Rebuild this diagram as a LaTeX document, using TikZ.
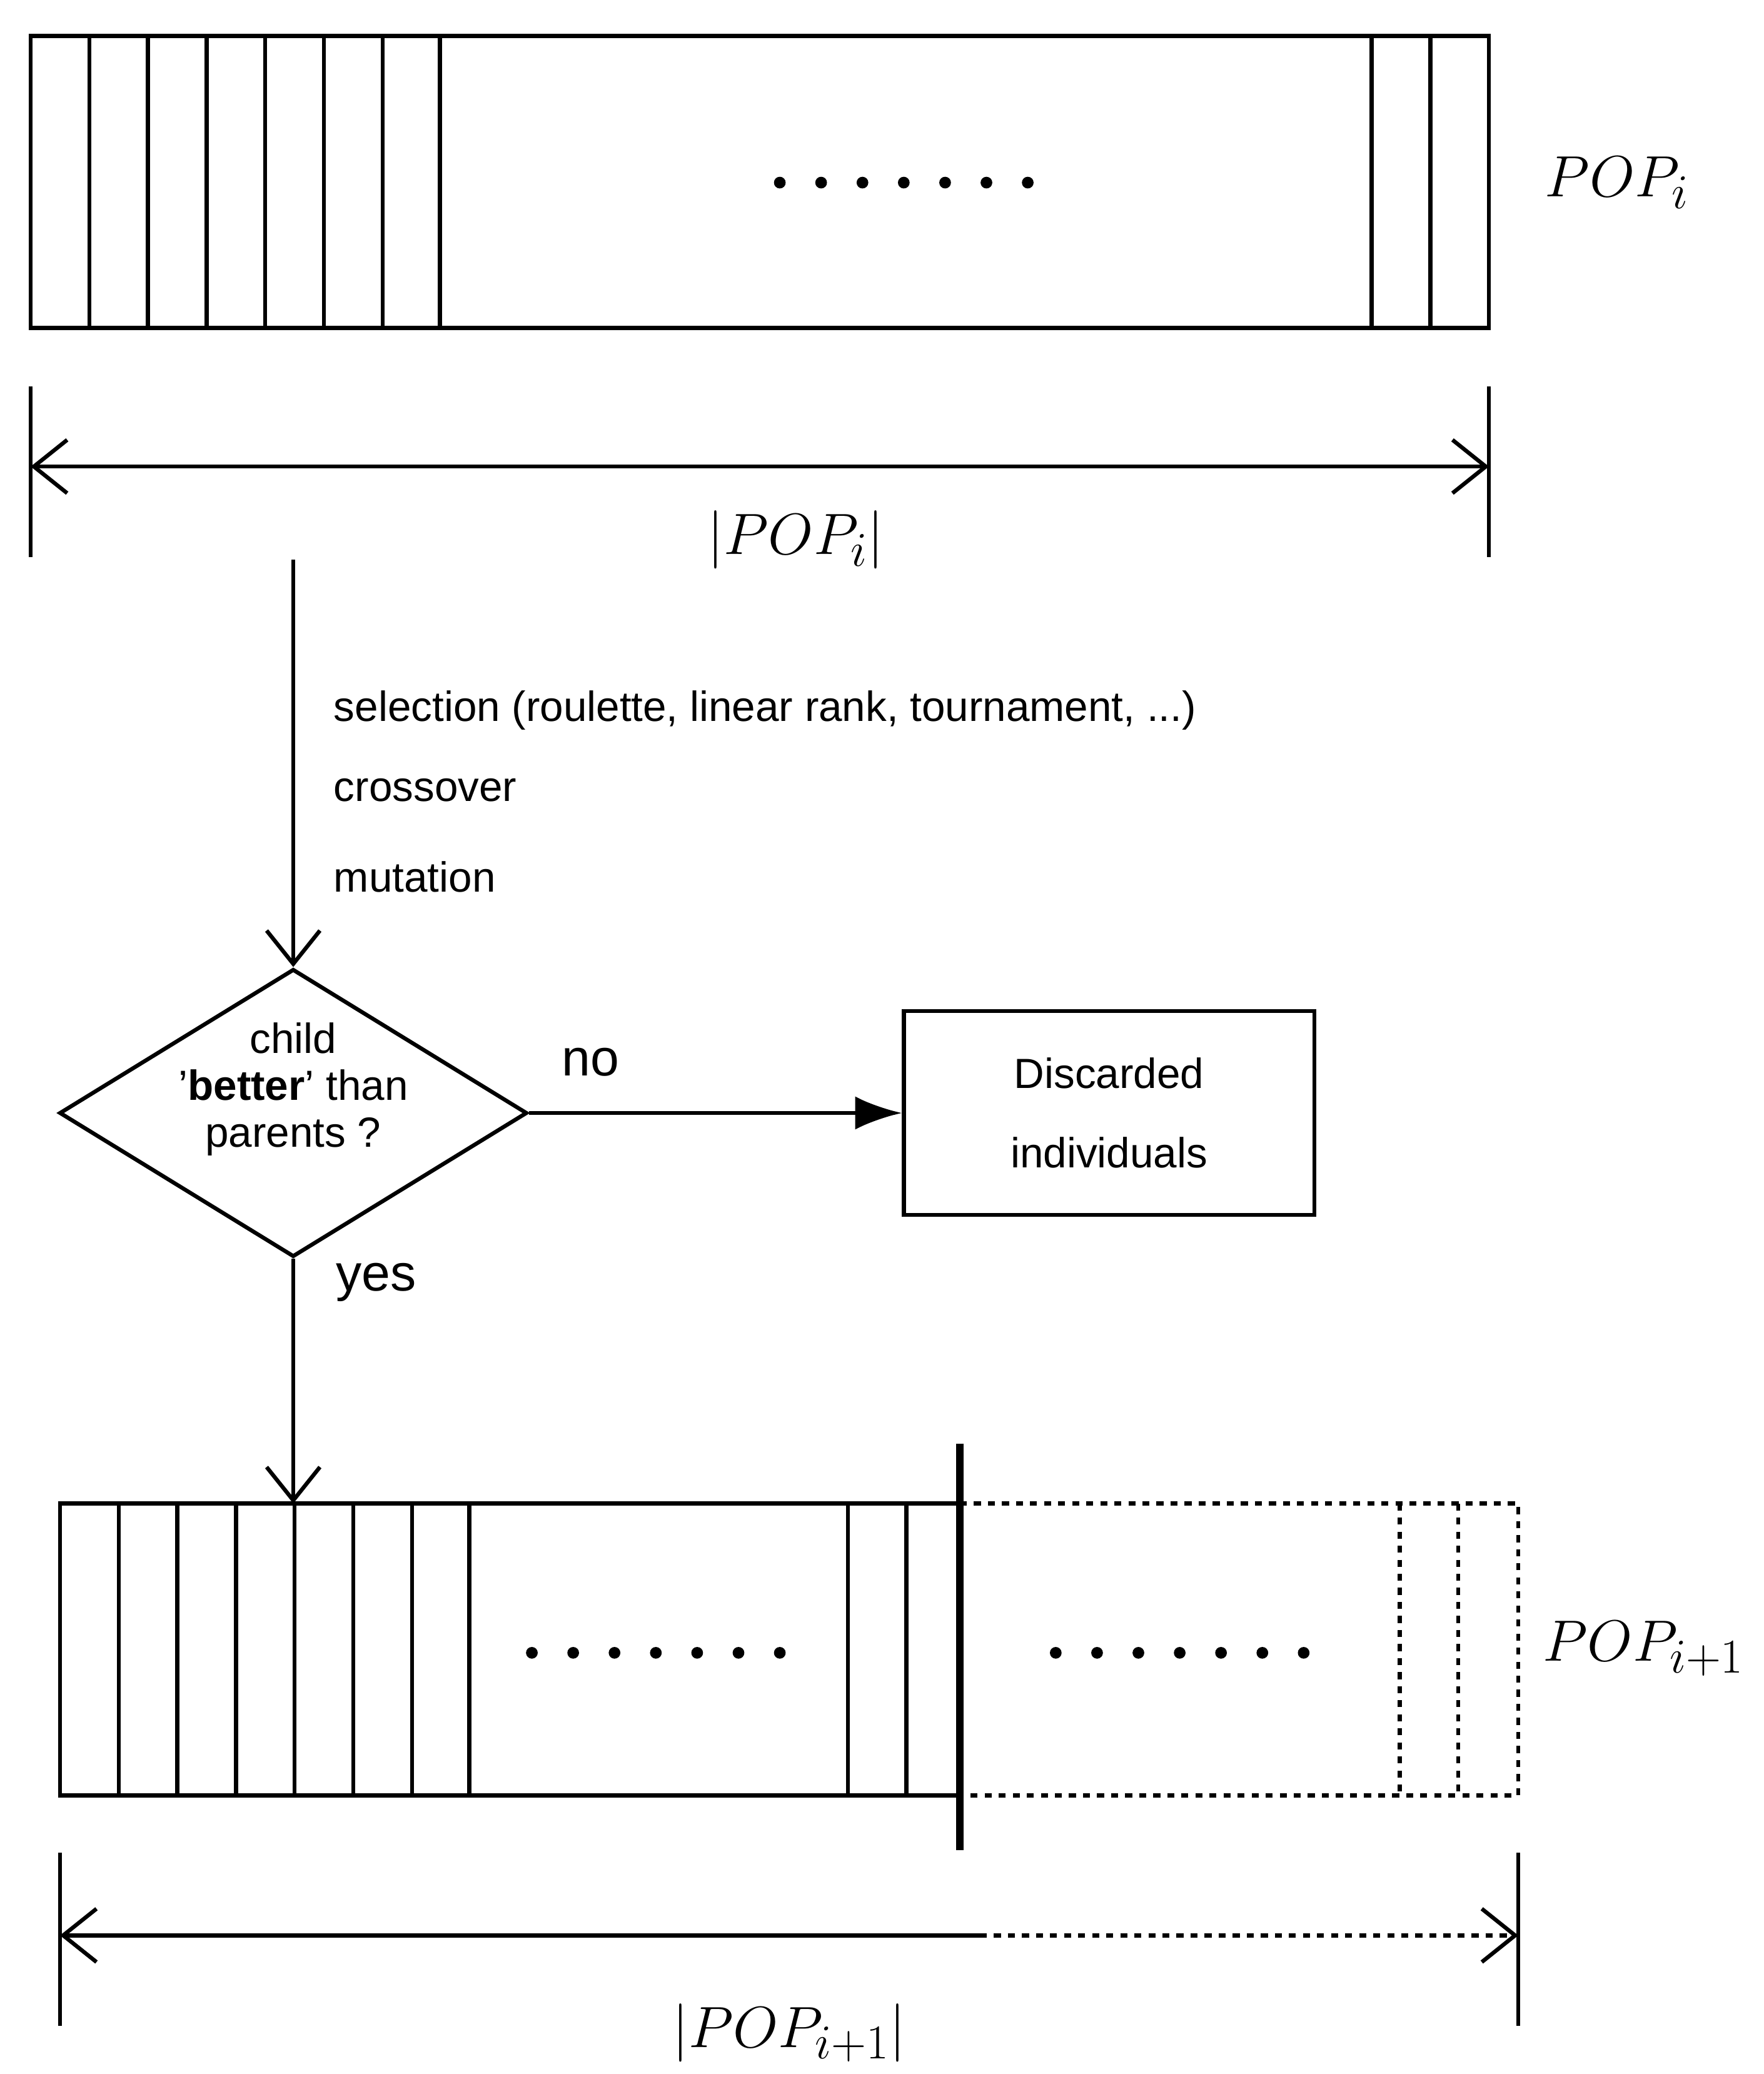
\documentclass[tikz,border=0pt]{standalone}
\usepackage{fontspec}
\setmainfont{Liberation Sans}
\usetikzlibrary{arrows.meta,shapes.geometric,positioning}
\begin{document}
\begin{tikzpicture}[x=0.02cm,y=-0.02cm,
        line width=1.7pt,
        txt/.style={font=\fontsize{18}{22}\selectfont, inner sep=0pt},
        mth/.style={font=\fontsize{29}{34}\selectfont, inner sep=0pt},
        barb/.style={-{Straight Barb[length=5mm,width=8mm,line width=1.7pt]}},
        dimen/.style={{Straight Barb[length=5mm,width=8mm,line width=1.7pt]}-{Straight Barb[length=5mm,width=8mm,line width=1.7pt]}},
        dot/.style={circle, fill, inner sep=0pt, minimum size=5pt},
    ]
    \useasboundingbox (0,0) rectangle (1323,1556);

    % population i
    \draw (23,27) rectangle (1117,246);
    \foreach \x in {67,111,155,199,243,287,330,1029,1073} \draw (\x,27) -- (\x,246);
    \foreach \k in {0,...,6} \node[dot] at (585+\k*31,137) {};
    \node[mth] (popi) at (1213,137) {$POP_i$};

    % size of population i
    \coordinate (ta) at (23,350); \coordinate (tb) at (1117,350);
    \draw (23,290) -- (23,418);
    \draw (1117,290) -- (1117,418);
    \draw[dimen] (ta) -- (tb);
    \node[mth] (sizei) at (597,405) {$|POP_i|$};

    % selection step
    \coordinate (start) at (220,420);
    \node[draw, diamond, aspect=1.63, minimum width=351\pgflinewidth*0+7.02cm, minimum height=4.32cm, inner sep=0pt] (test) at (220,835) {};
    \node[txt, align=center] at (220,817) {child\\[-2pt]'\textbf{better}' than\\[-2pt]parents ?};
    \draw[barb] (start) -- (test.north);
    \node[txt, anchor=west] at (249,533) {selection (roulette, linear rank, tournament, ...)};
    \node[txt, anchor=west] at (249,593) {crossover};
    \node[txt, anchor=west] at (249,658) {mutation};

    % discarded
    \node[draw, txt, align=center, minimum width=6.16cm, minimum height=3.06cm] (disc) at (832,835) {Discarded\\[12pt]individuals};
    \draw[-{Latex[length=7mm,width=5mm]}] (test.east) -- (disc.west);
    \node[txt, font=\fontsize{22}{26}\selectfont] at (443,797) {no};
    \node[txt, font=\fontsize{22}{26}\selectfont] at (282,962) {yes};

    % population i+1
    \coordinate (entry) at (220,1128);
    \draw[barb] (test.south) -- (entry);
    \draw (720,1128) -- (45,1128) -- (45,1347) -- (720,1347);
    \foreach \x in {89,133,177,221,265,309,352,636,680} \draw (\x,1128) -- (\x,1347);
    \draw[dashed] (720,1128) -- (1139,1128) -- (1139,1347) -- (720,1347);
    \foreach \x in {1050,1094} \draw[dashed] (\x,1128) -- (\x,1347);
    \draw[line width=3.4pt] (720,1083) -- (720,1388);
    \foreach \k in {0,...,6} \node[dot] at (399+\k*31,1240) {};
    \foreach \k in {0,...,6} \node[dot] at (792+\k*31,1240) {};
    \node[mth] (popn) at (1233,1237) {$POP_{i+1}$};

    % size of population i+1
    \coordinate (ba) at (45,1452); \coordinate (bm) at (735,1452); \coordinate (bb) at (1139,1452);
    \draw (45,1390) -- (45,1520);
    \draw (1139,1390) -- (1139,1520);
    \draw[{Straight Barb[length=5mm,width=8mm,line width=1.7pt]}-] (ba) -- (bm);
    \draw[dashed, -{Straight Barb[length=5mm,width=8mm,line width=1.7pt]}] (bm) -- (bb);
    \node[mth] (sizen) at (592,1525) {$|POP_{i+1}|$};
\end{tikzpicture}
\end{document}
